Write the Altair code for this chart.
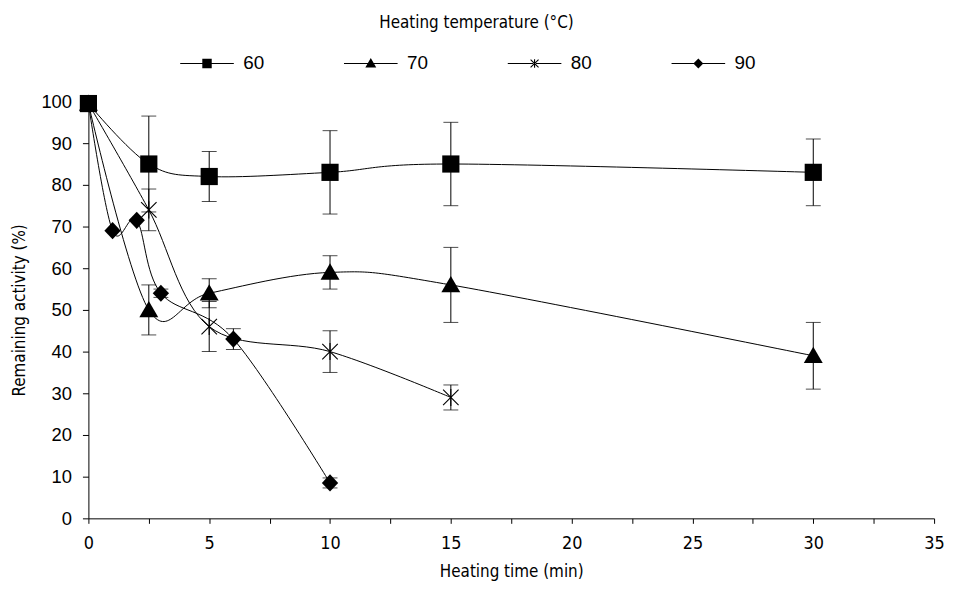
import altair as alt
import pandas as pd
import math

temps = ["60", "70", "80", "90"]

time_60 = [0, 2.5, 5, 10, 15, 30]
act_60 = [99.5, 85, 82, 83, 85, 83]
err_60 = [0, 11.5, 6, 10, 10, 8]

time_70 = [0, 2.5, 5, 10, 15, 30]
act_70 = [99.5, 50, 54, 59, 56, 39]
err_70 = [0, 6, 3.5, 4, 9, 8]

time_80 = [0, 2.5, 5, 10, 15]
act_80 = [99.5, 74, 46, 40, 29]
err_80 = [0, 5, 6, 5, 3]

time_90 = [0, 1, 2, 3, 6, 10]
act_90 = [99.5, 69, 71.5, 54, 43, 8.5]
err_90 = [0, 0, 0, 1, 2.5, 1.2]

x_ticks = [0, 2.5, 5, 7.5, 10, 12.5, 15, 17.5, 20, 22.5, 25, 27.5, 30, 32.5, 35]
y_ticks = [0, 10, 20, 30, 40, 50, 60, 70, 80, 90, 100]

series = [
    ("60", time_60, act_60, err_60),
    ("70", time_70, act_70, err_70),
    ("80", time_80, act_80, err_80),
    ("90", time_90, act_90, err_90),
]
rows = []
for T, ts, ys, es in series:
    for t, y, e in zip(ts, ys, es):
        rows.append({"temp": T, "time": t, "act": y, "lo": y - e, "hi": y + e, "err": e})
df = pd.DataFrame(rows)
df_err = df[df["err"] > 0]


def diag(x0, y0, x1, y1, t):
    dx, dy = x1 - x0, y1 - y0
    L = math.hypot(dx, dy)
    px, py = -dy / L * t / 2, dx / L * t / 2
    return (f"M{x0+px:.3f},{y0+py:.3f}L{x1+px:.3f},{y1+py:.3f}"
            f"L{x1-px:.3f},{y1-py:.3f}L{x0-px:.3f},{y0-py:.3f}Z")


def star(s, t):
    return (diag(-s, -s, s, s, t) + diag(-s, s, s, -s, t) + diag(0, -s * 1.1, 0, s * 1.1, t))


square_p = "M-1,-1H1V1H-1Z"
tri_p = "M0,-1.05L1.1,0.85H-1.1Z"
diamond_p = "M0,-1L0.95,0L0,1L-0.95,0Z"

plot_shapes = [square_p, tri_p, star(0.9, 0.13), diamond_p]

stub = 5.4
th = 0.1
stubs = f"M{-stub},{-th}H{stub}V{th}H{-stub}Z"
legend_shapes = [
    stubs + "M-0.95,-0.95H0.95V0.95H-0.95Z",
    stubs + "M0,-1.1L1.1,0.8H-1.1Z",
    stubs + star(0.8, 0.22),
    stubs + "M0,-1L1,0L0,1L-1,0Z",
]

title_font = "DejaVu Sans Condensed, Liberation Sans Narrow, Liberation Sans"
num_font = "Liberation Sans"

x_scale = alt.Scale(domain=[0, 35], nice=False, zero=False)
y_scale = alt.Scale(domain=[0, 100], nice=False)

x_axis = alt.Axis(
    values=x_ticks,
    labelExpr="datum.value % 5 == 0 ? datum.label : ''",
    grid=False, tickSize=5, tickColor="black", domainColor="black",
    labelFont=title_font, labelFontSize=18, labelColor="black", labelPadding=11,
    labelFlush=False,
    titleFont=title_font, titleFontSize=17, titleFontWeight="normal",
    titleColor="black", titlePadding=12,
)
y_axis = alt.Axis(
    values=y_ticks, grid=False, tickSize=6, tickColor="black", domainColor="black",
    labelFont=num_font, labelFontSize=18.5, labelColor="black", labelPadding=11,
    titleFont=title_font, titleFontSize=17, titleFontWeight="normal",
    titleColor="black", titlePadding=13,
)

X = alt.X("time:Q", scale=x_scale, axis=x_axis, title="Heating time (min)")
Y = alt.Y("act:Q", scale=y_scale, axis=y_axis, title="Remaining activity (%)")

lines = alt.Chart(df).mark_line(
    interpolate="cardinal", color="black", strokeWidth=1
).encode(x=X, y=Y, detail="temp:N", order="time:Q")

bars = alt.Chart(df_err).mark_rule(color="black", strokeWidth=1).encode(
    x="time:Q", y="lo:Q", y2="hi:Q"
)
caps_lo = alt.Chart(df_err).mark_tick(
    color="black", thickness=1, size=15, orient="horizontal"
).encode(x="time:Q", y="lo:Q")
caps_hi = alt.Chart(df_err).mark_tick(
    color="black", thickness=1, size=15, orient="horizontal"
).encode(x="time:Q", y="hi:Q")

points = alt.Chart(df).mark_point(
    filled=True, color="black", opacity=1, size=300
).encode(
    x="time:Q", y="act:Q",
    shape=alt.Shape("temp:N", scale=alt.Scale(domain=temps, range=plot_shapes), legend=None),
)

legend_layer = alt.Chart(df).transform_filter("false").mark_point(
    filled=True, color="black", opacity=1
).encode(
    x="time:Q", y="act:Q",
    shape=alt.Shape(
        "temp:N",
        scale=alt.Scale(domain=temps, range=legend_shapes),
        legend=alt.Legend(
            title="Heating temperature (°C)",
            orient="none", legendX=110, legendY=-87,
            direction="horizontal", columns=4,
            titleAnchor="middle", titleOrient="top", titleLimit=600,
            titleFont=title_font, titleFontSize=17, titleFontWeight="normal",
            titleColor="black", titlePadding=22,
            labelFont=num_font, labelFontSize=19, labelColor="black",
            labelOffset=27, symbolSize=100, columnPadding=79,
            symbolFillColor="black", symbolStrokeColor="black", symbolStrokeWidth=0,
        ),
    ),
)

chart = alt.layer(lines, bars, caps_lo, caps_hi, points, legend_layer).resolve_scale(
    shape="independent"
).properties(
    width=852, height=420,
    autosize=alt.AutoSizeParams(type="none"),
    padding={"left": 81, "top": 92, "right": 12, "bottom": 70},
).configure_view(stroke=None)

chart.save("out.html", embed_options={"renderer": "svg", "actions": False})
